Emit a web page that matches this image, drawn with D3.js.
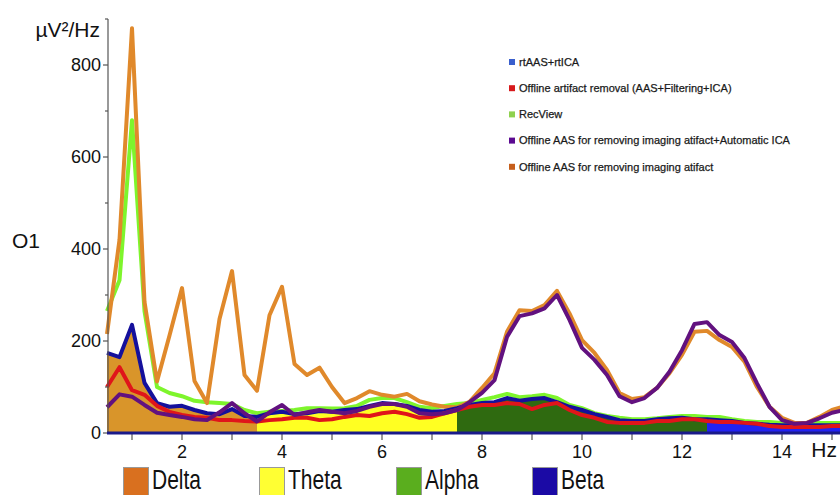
<!DOCTYPE html>
<html>
<head>
<meta charset="utf-8">
<script src="https://cdn.jsdelivr.net/npm/d3@7"></script>
<style>
  html, body { margin: 0; padding: 0; background: #fff; }
  svg { display: block; }
  text { font-family: "Liberation Sans", Arial, sans-serif; }
</style>
</head>
<body>
<svg id="chart" width="840" height="495"></svg>
<script>
// Frequency bins (Hz), 0.25 Hz resolution
const freqs = d3.range(0, 60).map(i => 0.5 + i * 0.25);

// Power spectral density at channel O1 (µV²/Hz)
const offlineAAS = [215, 420, 880, 285, 112, 212, 315, 113, 65, 248, 352, 126, 92, 256, 318, 150, 126, 142, 100, 65,
  76, 91, 83, 79, 85, 69, 62, 57, 56, 68, 98, 130, 220, 267, 265, 278, 309, 260, 202, 174,
  137, 87, 74, 78, 98, 130, 170, 220, 222, 202, 187, 155, 100, 57, 33, 22, 22, 35, 50, 58];
const offlineAASICA = [56, 84, 79, 61, 44, 39, 35, 30, 28, 45, 65, 43, 25, 45, 61, 39, 45, 50, 46, 43,
  48, 57, 63, 63, 57, 43, 41, 43, 50, 67, 87, 115, 209, 254, 260, 271, 300, 246, 185, 159,
  126, 80, 67, 76, 98, 133, 180, 237, 241, 213, 198, 163, 108, 57, 28, 20, 22, 32, 44, 50];
const recView = [265, 332, 680, 265, 100, 87, 80, 70, 67, 65, 63, 50, 43, 46, 48, 50, 54, 54, 53, 54,
  59, 72, 76, 76, 67, 57, 54, 59, 63, 65, 72, 78, 85, 78, 80, 83, 76, 61, 54, 43,
  37, 33, 30, 30, 32, 35, 37, 37, 35, 35, 30, 26, 24, 24, 22, 22, 22, 22, 22, 22];
const rtAASrtICA = [174, 165, 235, 109, 65, 57, 59, 50, 43, 41, 52, 37, 35, 43, 46, 41, 43, 48, 46, 50,
  52, 59, 65, 63, 59, 50, 46, 48, 54, 61, 65, 67, 76, 70, 74, 76, 67, 57, 50, 41,
  35, 28, 26, 26, 30, 32, 33, 30, 30, 28, 26, 22, 20, 18, 17, 17, 17, 17, 17, 17];
const offlineFull = [100, 143, 93, 83, 59, 46, 39, 35, 33, 28, 28, 26, 25, 28, 30, 33, 33, 28, 30, 35,
  39, 37, 43, 46, 41, 33, 35, 43, 50, 57, 61, 61, 65, 63, 52, 61, 65, 50, 39, 33,
  24, 22, 22, 22, 26, 26, 30, 30, 26, 24, 24, 22, 20, 15, 13, 13, 13, 13, 15, 15];

// Frequency bands shaded under the rtAAS+rtICA spectrum
const bandNames = ["Delta", "Theta", "Alpha", "Beta"];
const bandLimits = [[0.5, 3.5], [3.5, 7.5], [7.5, 12.5], [12.5, 15.25]];
const bandFill = ["#d9952a", "#ffff22", "#2f6a10", "#2222f2"];
const bandSwatch = ["#d9701f", "#ffff33", "#5aae1e", "#1b0aa5"];

const seriesNames = ["rtAAS+rtICA", "Offline artifact removal (AAS+Filtering+ICA)", "RecView",
  "Offline AAS for removing imaging atifact+Automatic ICA", "Offline AAS for removing imaging atifact"];
const seriesKeyColor = ["#3a5fcd", "#d7191c", "#8fd14f", "#5b0a91", "#c65e1b"];

const yTicks = [0, 200, 400, 600, 800];
const xTicks = [2, 4, 6, 8, 10, 12, 14];

const svg = d3.select("#chart");
const x = d3.scaleLinear().domain([0.5, 15.25]).range([107, 844.5]);
const y = d3.scaleLinear().domain([0, 900]).range([433, 19]);

// Shaded bands
const area = d3.area().x(d => x(d.f)).y0(y(0)).y1(d => y(d.v));
bandLimits.forEach((lim, i) => {
  const pts = freqs.map((f, k) => ({ f, v: rtAASrtICA[k] }))
    .filter(d => d.f >= lim[0] - 1e-9 && d.f <= lim[1] + 1e-9);
  svg.append("path").datum(pts).attr("d", area).attr("fill", bandFill[i]);
});

// Spectrum lines
const line = d3.line().x(d => x(d.f)).y(d => y(d.v));
const lines = [
  { data: recView, color: "#7ef52c" },
  { data: offlineAAS, color: "#e0892b" },
  { data: rtAASrtICA, color: "#15109c" },
  { data: offlineFull, color: "#e0151a" },
  { data: offlineAASICA, color: "#62117f" }
];
lines.forEach(s => {
  svg.append("path")
    .datum(freqs.map((f, k) => ({ f, v: s.data[k] })))
    .attr("d", line)
    .attr("fill", "none")
    .attr("stroke", s.color)
    .attr("stroke-width", 4)
    .attr("stroke-linejoin", "round");
});

// Y axis
const yAxis = svg.append("g").attr("transform", "translate(108,0)");
yAxis.append("line").attr("x1", 0).attr("x2", 0).attr("y1", y(900)).attr("y2", y(0))
  .attr("stroke", "#555").attr("stroke-width", 1.2);
d3.range(0, 901, 100).forEach(v => {
  yAxis.append("line").attr("x1", v % 200 === 0 ? -5 : -3).attr("x2", 0)
    .attr("y1", y(v)).attr("y2", y(v)).attr("stroke", "#555").attr("stroke-width", 1.2);
});
yAxis.selectAll("text.tick").data(yTicks).join("text")
  .attr("x", -7).attr("y", d => y(d)).attr("dy", "0.36em")
  .attr("text-anchor", "end").attr("font-size", 18).attr("fill", "#111")
  .text(d => d);

// X axis
const xAxis = svg.append("g");
d3.range(1, 16).forEach(f => {
  xAxis.append("line").attr("x1", x(f)).attr("x2", x(f)).attr("y1", 434).attr("y2", 440)
    .attr("stroke", "#555").attr("stroke-width", 1.2);
});
xAxis.append("line").attr("x1", x(0.5)).attr("x2", 840).attr("y1", 433).attr("y2", 433)
  .attr("stroke", "#1a1a8a").attr("stroke-width", 3);
xAxis.selectAll("text").data(xTicks).join("text")
  .attr("x", d => x(d)).attr("y", 458).attr("text-anchor", "middle")
  .attr("font-size", 18).attr("fill", "#111").text(d => d);

svg.append("text").attr("x", 837).attr("y", 457).attr("text-anchor", "end")
  .attr("font-size", 21).attr("fill", "#111").text("Hz");
svg.append("text").attr("x", 100).attr("y", 37).attr("text-anchor", "end")
  .attr("font-size", 21).attr("fill", "#111").text("µV²/Hz");
svg.append("text").attr("x", 12).attr("y", 248)
  .attr("font-size", 21).attr("fill", "#111").text("O1");

// Series key
const key = svg.append("g");
seriesNames.forEach((name, i) => {
  const cy = 62 + i * 26.2;
  key.append("rect").attr("x", 509).attr("y", cy - 3).attr("width", 6).attr("height", 6)
    .attr("fill", seriesKeyColor[i]);
  key.append("text").attr("x", 519).attr("y", cy).attr("dy", "0.35em")
    .attr("font-size", 11).attr("fill", "#1a1a1a")
    .attr("stroke", "#1a1a1a").attr("stroke-width", 0.25)
    .text(name);
});

// Band key
const bandKeyX = [123, 259, 396, 532];
bandNames.forEach((name, i) => {
  svg.append("rect").attr("x", bandKeyX[i] + 0.5).attr("y", 467.5).attr("width", 25).attr("height", 30)
    .attr("fill", bandSwatch[i]).attr("stroke", "#999").attr("stroke-width", 1);
  svg.append("text")
    .attr("transform", `translate(${bandKeyX[i] + 29},489) scale(1,1.3)`)
    .attr("font-size", 21).attr("fill", "#111").text(name);
});
</script>
</body>
</html>
